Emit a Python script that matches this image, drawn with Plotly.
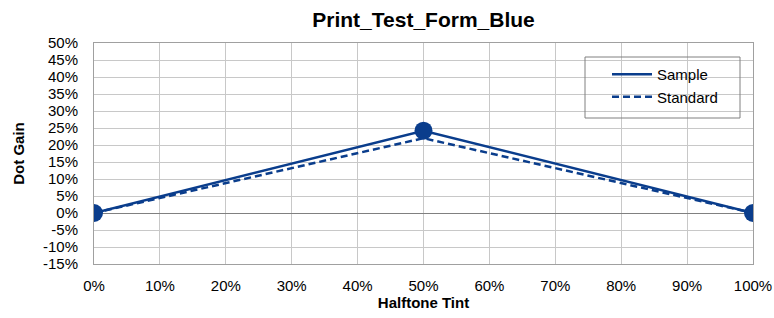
import plotly.graph_objects as go

tint = [0, 50, 100]
sample = [0.0, 24.2, 0.0]
standard = [0.0, 22.0, 0.0]
x_ticks = [0, 10, 20, 30, 40, 50, 60, 70, 80, 90, 100]
y_ticks = [-15, -10, -5, 0, 5, 10, 15, 20, 25, 30, 35, 40, 45, 50]

blue = "#0a3d8c"
font = "Liberation Sans, Arial, sans-serif"

fig = go.Figure()
fig.add_trace(go.Scatter(x=tint, y=sample, name="Sample", mode="lines",
                         line=dict(color=blue, width=2.5), legendgroup="a"))
fig.add_trace(go.Scatter(x=tint, y=standard, name="Standard", mode="lines",
                         line=dict(color=blue, width=2.5, dash="7px,4px"), legendgroup="b"))
fig.add_trace(go.Scatter(x=tint, y=sample, mode="markers", showlegend=False,
                         marker=dict(size=18, color=blue)))

fig.update_layout(
    width=774, height=318, autosize=False,
    margin=dict(l=94, r=21, t=43, b=54, autoexpand=False),
    paper_bgcolor="white", plot_bgcolor="white",
    font=dict(family=font, size=15, color="#000000"),
    title=dict(text="<b>Print_Test_Form_Blue</b>", xref="paper", x=0.5, xanchor="center",
               yref="container", y=1 - 20 / 318, yanchor="middle",
               font=dict(size=21, family=font)),
    showlegend=True,
    legend=dict(x=(607 - 94) / 659, y=(264 - 58) / 221, xanchor="left", yanchor="top",
                borderwidth=0, bgcolor="rgba(0,0,0,0)",
                font=dict(size=15), itemwidth=40, tracegroupgap=0),
    shapes=[dict(type="rect", xref="paper", yref="paper",
                 x0=(585 - 94) / 659, x1=(740 - 94) / 659,
                 y0=(264 - 118) / 221, y1=(264 - 57) / 221,
                 line=dict(color="#808080", width=1), fillcolor="rgba(0,0,0,0)",
                 layer="above")],
)
fig.update_xaxes(range=[0, 100], tickvals=x_ticks,
                 ticktext=[f"{v}%" for v in x_ticks], automargin=False,
                 ticklabeloverflow="allow",
                 showgrid=True, gridcolor="#c8c8c8", gridwidth=1,
                 showline=True, linecolor="#a0a0a0", mirror=True,
                 zeroline=False, ticks="", tickfont=dict(size=15), ticklabelstandoff=8,
                 title=dict(text="<b>Halftone Tint</b>", font=dict(size=15), standoff=2))
fig.update_yaxes(range=[-15, 50], tickvals=y_ticks,
                 ticktext=[f"{v}%" for v in y_ticks], automargin=False,
                 showgrid=True, gridcolor="#c8c8c8", gridwidth=1,
                 showline=True, linecolor="#a0a0a0", mirror=True,
                 zeroline=True, zerolinecolor="#808080", zerolinewidth=1,
                 ticks="", tickfont=dict(size=15), ticklabelstandoff=12,
                 title=dict(text="<b>Dot Gain</b>", font=dict(size=15), standoff=14))

fig.write_html("out.html",
               config={"displayModeBar": False, "responsive": False},
               post_script="document.body.style.margin='0';document.body.style.overflow='hidden';")
